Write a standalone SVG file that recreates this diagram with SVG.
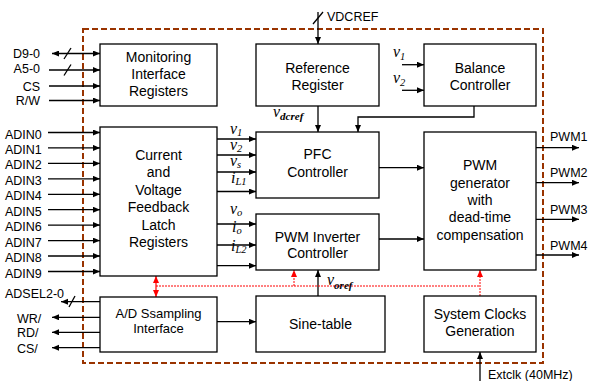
<svg xmlns="http://www.w3.org/2000/svg" width="589" height="381" viewBox="0 0 589 381">
<style>
.box{fill:#fff;stroke:#000;stroke-width:1.3}
.bt{font-family:"Liberation Sans",Arial,sans-serif;font-size:14px;fill:#000;text-anchor:middle}
.bs{font-family:"Liberation Sans",Arial,sans-serif;font-size:13px;fill:#000;text-anchor:middle}
.lb{font-family:"Liberation Sans",Arial,sans-serif;font-size:12.5px;fill:#000}
.ln{stroke:#000;stroke-width:1.3;fill:none}
.arr{marker-end:url(#ah)}
.red{stroke:#f00;stroke-width:1;fill:none;stroke-dasharray:2 1}
.v{font-family:"Liberation Serif","Times New Roman",serif;font-style:italic;font-size:16px;fill:#000}
.sub{font-size:10.5px}
.border{fill:none;stroke:#993300;stroke-width:2;stroke-dasharray:6 3}
</style>
<defs>
<marker id="ah" markerUnits="userSpaceOnUse" markerWidth="8" markerHeight="7" refX="7" refY="3" orient="auto"><path d="M0,0 L7,3 L0,6 z" fill="#000"/></marker>
<marker id="ahs" markerUnits="userSpaceOnUse" markerWidth="8" markerHeight="7" refX="0" refY="3" orient="auto"><path d="M7,0 L0,3 L7,6 z" fill="#000"/></marker>
<marker id="rh" markerUnits="userSpaceOnUse" markerWidth="8" markerHeight="7" refX="7" refY="3" orient="auto"><path d="M0,0 L7,3 L0,6 z" fill="#f00"/></marker>
<marker id="rhs" markerUnits="userSpaceOnUse" markerWidth="8" markerHeight="7" refX="0" refY="3" orient="auto"><path d="M7,0 L0,3 L7,6 z" fill="#f00"/></marker>
</defs>
<rect width="589" height="381" fill="#fff"/>
<rect class="border" x="83" y="29" width="460" height="334"/>

<g id="connectors">
<!-- left inputs -->
<line class="ln arr" x1="52" y1="53.5" x2="100" y2="53.5" marker-start="url(#ahs)"/>
<line class="ln" x1="64" y1="59" x2="71" y2="48"/>
<line class="ln arr" x1="49" y1="70" x2="100" y2="70"/>
<line class="ln" x1="64" y1="75.5" x2="71" y2="64.5"/>
<line class="ln arr" x1="49" y1="86" x2="100" y2="86"/>
<line class="ln arr" x1="49" y1="100.5" x2="100" y2="100.5"/>
<line class="ln arr" x1="48" y1="132.5" x2="100" y2="132.5"/>
<line class="ln arr" x1="48" y1="147.9" x2="100" y2="147.9"/>
<line class="ln arr" x1="48" y1="163.4" x2="100" y2="163.4"/>
<line class="ln arr" x1="48" y1="178.8" x2="100" y2="178.8"/>
<line class="ln arr" x1="48" y1="194.3" x2="100" y2="194.3"/>
<line class="ln arr" x1="48" y1="209.7" x2="100" y2="209.7"/>
<line class="ln arr" x1="48" y1="225.1" x2="100" y2="225.1"/>
<line class="ln arr" x1="48" y1="240.6" x2="100" y2="240.6"/>
<line class="ln arr" x1="48" y1="256" x2="100" y2="256"/>
<line class="ln arr" x1="48" y1="271.5" x2="100" y2="271.5"/>
<!-- A/D outputs -->
<line class="ln arr" x1="100" y1="301.7" x2="61" y2="301.7"/>
<line class="ln" x1="69" y1="307" x2="75" y2="296"/>
<line class="ln arr" x1="100" y1="317.3" x2="52" y2="317.3"/>
<line class="ln arr" x1="100" y1="332.3" x2="52" y2="332.3"/>
<line class="ln arr" x1="100" y1="347.7" x2="52" y2="347.7"/>
<!-- VDCREF -->
<line class="ln arr" x1="318" y1="12" x2="318" y2="44"/>
<line class="ln" x1="313" y1="24" x2="323" y2="12"/>
<!-- Balance inputs -->
<line class="ln arr" x1="402" y1="64.7" x2="424" y2="64.7"/>
<line class="ln arr" x1="402" y1="90.3" x2="424" y2="90.3"/>
<!-- Ref -> PFC -->
<line class="ln arr" x1="318" y1="106" x2="318" y2="132"/>
<!-- Balance -> PFC -->
<path class="ln arr" d="M474,106 V117 H358 V132"/>
<!-- Current -> PFC -->
<line class="ln arr" x1="217" y1="139" x2="256" y2="139"/>
<line class="ln arr" x1="217" y1="155" x2="256" y2="155"/>
<line class="ln arr" x1="217" y1="172" x2="256" y2="172"/>
<line class="ln arr" x1="217" y1="191.5" x2="256" y2="191.5"/>
<!-- Current -> PWM Inverter -->
<line class="ln arr" x1="217" y1="224" x2="256" y2="224"/>
<line class="ln arr" x1="217" y1="245" x2="256" y2="245"/>
<line class="ln arr" x1="217" y1="265.7" x2="256" y2="265.7"/>
<!-- to PWM gen -->
<line class="ln arr" x1="379" y1="167.7" x2="424" y2="167.7"/>
<line class="ln arr" x1="379" y1="239" x2="424" y2="239"/>
<!-- PWM outputs -->
<line class="ln arr" x1="536" y1="147.7" x2="579" y2="147.7"/>
<line class="ln arr" x1="536" y1="182.7" x2="579" y2="182.7"/>
<line class="ln arr" x1="536" y1="219.3" x2="579" y2="219.3"/>
<line class="ln arr" x1="536" y1="255" x2="579" y2="255"/>
<!-- A/D -> Sine -->
<line class="ln arr" x1="217" y1="321.7" x2="256" y2="321.7"/>
<!-- Sine -> PWM Inverter -->
<line class="ln arr" x1="318" y1="296" x2="318" y2="270"/>
<!-- Extclk -->
<line class="ln arr" x1="480" y1="381" x2="480" y2="352"/>
<!-- red clock lines -->
<line class="red" x1="156" y1="286" x2="480" y2="286"/>
<line x1="156" y1="276" x2="156" y2="297" stroke="#f00" stroke-width="1.2" marker-start="url(#rhs)" marker-end="url(#rh)"/>
<line class="red" x1="294" y1="286" x2="294" y2="270" marker-end="url(#rh)"/>
<line class="red" x1="480" y1="296" x2="480" y2="270" marker-end="url(#rh)"/>
</g>

<g id="monitoring">
<rect class="box" x="100" y="44" width="117" height="62"/>
<text class="bt" x="158.5" y="62">Monitoring</text>
<text class="bt" x="158.5" y="79">Interface</text>
<text class="bt" x="158.5" y="96">Registers</text>
</g>
<g id="reference">
<rect class="box" x="256" y="44" width="123" height="62"/>
<text class="bt" x="317.5" y="72.5">Reference</text>
<text class="bt" x="317.5" y="90">Register</text>
</g>
<g id="balance">
<rect class="box" x="424" y="44" width="112" height="62"/>
<text class="bt" x="480" y="72.5">Balance</text>
<text class="bt" x="480" y="90">Controller</text>
</g>
<g id="feedback">
<rect class="box" x="100" y="127" width="117" height="149"/>
<text class="bt" x="158.5" y="160">Current</text>
<text class="bt" x="158.5" y="177">and</text>
<text class="bt" x="158.5" y="194.5">Voltage</text>
<text class="bt" x="158.5" y="212">Feedback</text>
<text class="bt" x="158.5" y="229.5">Latch</text>
<text class="bt" x="158.5" y="247">Registers</text>
</g>
<g id="pfc">
<rect class="box" x="256" y="132" width="123" height="66"/>
<text class="bt" x="317.5" y="159">PFC</text>
<text class="bt" x="317.5" y="176.5">Controller</text>
</g>
<g id="inverter">
<rect class="box" x="256" y="214" width="123" height="56"/>
<text class="bt" x="317.5" y="241.5">PWM Inverter</text>
<text class="bt" x="317.5" y="258">Controller</text>
</g>
<g id="pwmgen">
<rect class="box" x="424" y="132" width="112" height="138"/>
<text class="bt" x="480" y="170">PWM</text>
<text class="bt" x="480" y="188">generator</text>
<text class="bt" x="480" y="205">with</text>
<text class="bt" x="480" y="222">dead-time</text>
<text class="bt" x="480" y="240">compensation</text>
</g>
<g id="adc">
<rect class="box" x="100" y="297" width="117" height="55"/>
<text class="bs" x="158.5" y="318">A/D Ssampling</text>
<text class="bs" x="158.5" y="333">Interface</text>
</g>
<g id="sine">
<rect class="box" x="256" y="296" width="129" height="56"/>
<text class="bt" x="320.5" y="328.5">Sine-table</text>
</g>
<g id="clocks">
<rect class="box" x="424" y="296" width="112" height="56"/>
<text class="bt" x="480" y="319">System Clocks</text>
<text class="bt" x="480" y="335.5">Generation</text>
</g>

<g id="labels">
<text class="lb" x="40" y="58" text-anchor="end">D9-0</text>
<text class="lb" x="40" y="73" text-anchor="end">A5-0</text>
<text class="lb" x="40" y="90.5" text-anchor="end">CS</text>
<text class="lb" x="40" y="105" text-anchor="end">R/W</text>
<text class="lb" x="5" y="138.5">ADIN0</text>
<text class="lb" x="5" y="153.9">ADIN1</text>
<text class="lb" x="5" y="169.4">ADIN2</text>
<text class="lb" x="5" y="184.8">ADIN3</text>
<text class="lb" x="5" y="200.3">ADIN4</text>
<text class="lb" x="5" y="215.7">ADIN5</text>
<text class="lb" x="5" y="231.1">ADIN6</text>
<text class="lb" x="5" y="246.6">ADIN7</text>
<text class="lb" x="5" y="262">ADIN8</text>
<text class="lb" x="5" y="277.5">ADIN9</text>
<text class="lb" x="5" y="297.5">ADSEL2-0</text>
<text class="lb" x="17" y="323">WR/</text>
<text class="lb" x="17" y="337">RD/</text>
<text class="lb" x="17" y="353">CS/</text>
<text class="lb" x="327" y="20.5">VDCREF</text>
<text class="lb" x="550" y="141.3">PWM1</text>
<text class="lb" x="550" y="177.3">PWM2</text>
<text class="lb" x="550" y="214">PWM3</text>
<text class="lb" x="550" y="249.7">PWM4</text>
<text class="lb" x="488" y="379">Extclk (40MHz)</text>
<text class="v" x="230" y="133.5">v<tspan class="sub" dy="2">1</tspan></text>
<text class="v" x="230" y="150">v<tspan class="sub" dy="2">2</tspan></text>
<text class="v" x="230" y="166">v<tspan class="sub" dy="2">s</tspan></text>
<text class="v" x="231" y="183">i<tspan class="sub" dy="2">L1</tspan></text>
<text class="v" x="230" y="214">v<tspan class="sub" dy="2">o</tspan></text>
<text class="v" x="232" y="232">i<tspan class="sub" dy="2">o</tspan></text>
<text class="v" x="231" y="251">i<tspan class="sub" dy="2">L2</tspan></text>
<text class="v" x="393" y="57">v<tspan class="sub" dy="3">1</tspan></text>
<text class="v" x="393" y="83">v<tspan class="sub" dy="3">2</tspan></text>
<text class="v" x="273" y="117" font-size="18">v<tspan font-size="11" font-weight="bold" dy="3">dcref</tspan></text>
<text class="v" x="327" y="285" font-size="19">v<tspan font-size="11" font-weight="bold" dy="4">oref</tspan></text>
</g>
</svg>
